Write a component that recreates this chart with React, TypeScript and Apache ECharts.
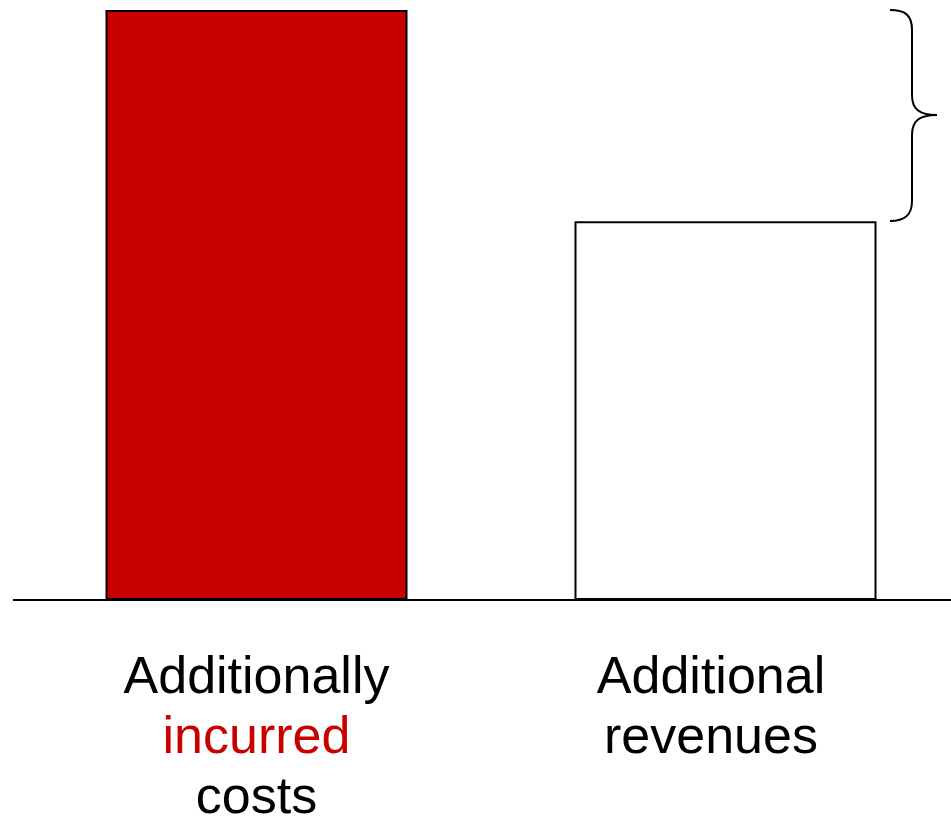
import React, { useEffect, useRef } from "react";
import * as echarts from "echarts";

const categories = ["Additionally\n{r|incurred}\ncosts", "Additional\nrevenues"];
const labelShift = [0, 29];
const values = [100, 64.2];
const barColors = ["#C80000", "#FFFFFF"];

const braceD =
  "M890,10 C905,10 912,15 912,30 L912,95 C912,109 919,115 937,115 C919,115 912,121 912,135 L912,201 C912,215 905,221 890,221";

export default function App() {
  const ref = useRef<HTMLDivElement>(null);
  useEffect(() => {
    document.body.style.margin = "0";
    echarts.graphic.registerShape("brace", echarts.graphic.extendPath(braceD, {}));
    const chart = echarts.init(ref.current!, null, { renderer: "svg" });
    const font = "'Liberation Sans', Arial, sans-serif";
    chart.setOption({
      animation: false,
      grid: { left: 22, right: -9, top: 10, bottom: 226, outerBoundsMode: "none", containLabel: false },
      xAxis: {
        type: "category",
        data: categories.map((c, i) => ({
          value: c,
          textStyle: { padding: [0, labelShift[i], 0, 0] },
        })),
        axisLine: { show: false },
        axisTick: { show: false },
        axisLabel: {
          interval: 0,
          margin: 45,
          color: "#000",
          fontFamily: font,
          fontSize: 52,
          lineHeight: 60,
          rich: { r: { color: "#C80000", fontFamily: font, fontSize: 52, lineHeight: 60 } },
        },
      },
      yAxis: { type: "value", min: 0, max: 100, show: false, splitLine: { show: false } },
      series: [
        {
          type: "bar",
          barWidth: 302,
          data: values.map((v, i) => ({
            value: v,
            itemStyle: { color: barColors[i], borderColor: "#000", borderWidth: 2 },
          })),
        },
      ],
      graphic: [
        { type: "line", shape: { x1: 13, y1: 600, x2: 951, y2: 600 }, style: { stroke: "#000", lineWidth: 2 } },
        { type: "brace", x: 0, y: 0, style: { stroke: "#000", lineWidth: 2, fill: "none" } },
      ],
    });
    return () => chart.dispose();
  }, []);
  return <div ref={ref} style={{ width: 951, height: 826 }} />;
}
